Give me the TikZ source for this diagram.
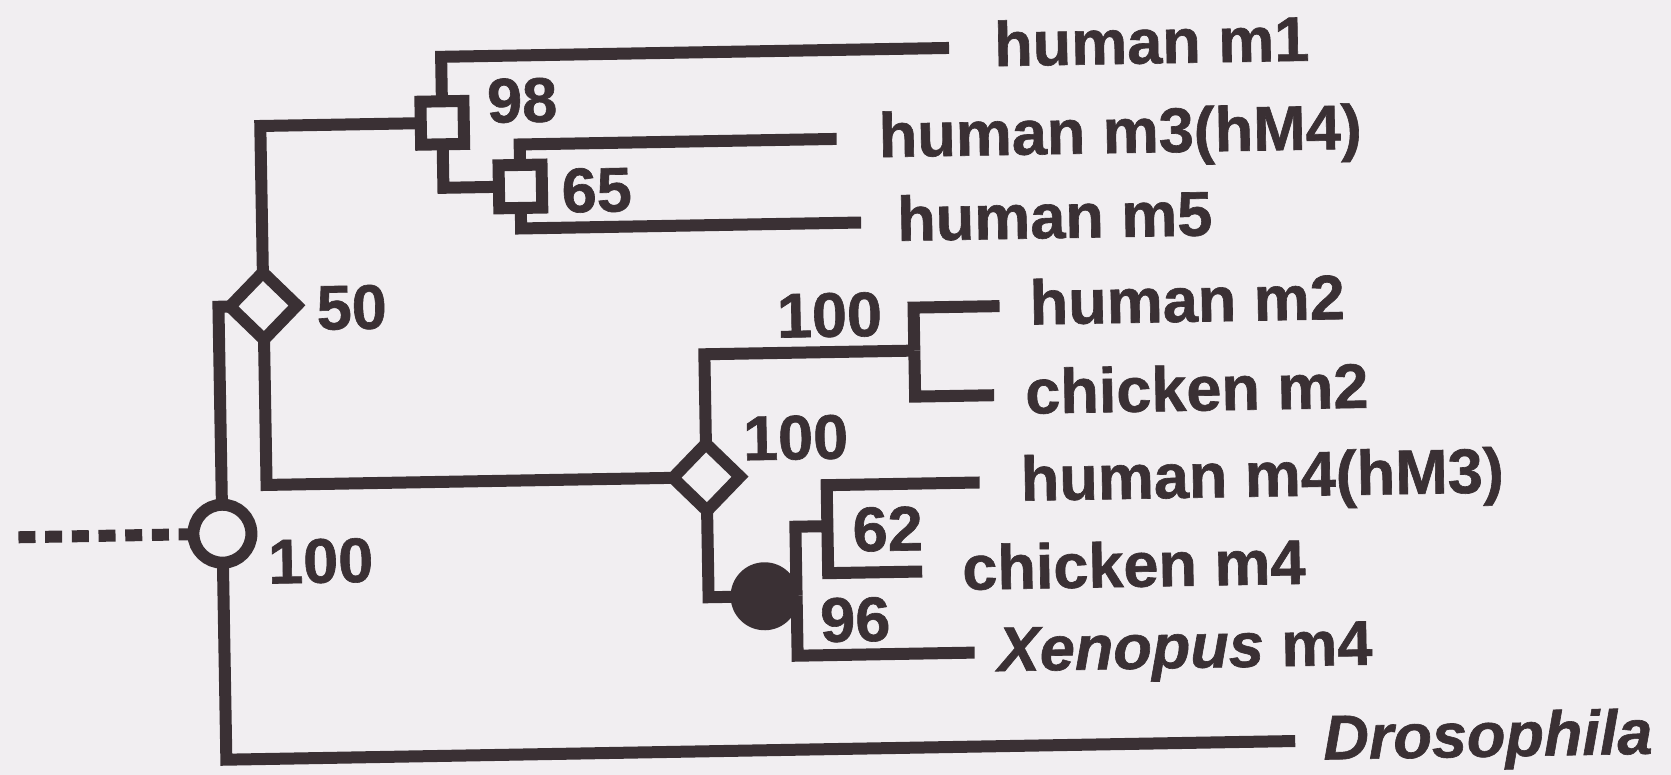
\documentclass[tikz,border=0pt]{standalone}
\usepackage{fontspec}
\setmainfont{Liberation Sans}[BoldFeatures={FakeBold=1},BoldItalicFeatures={FakeBold=1}]
\usetikzlibrary{shapes.geometric}
\definecolor{ink}{RGB}{58,48,52}
\definecolor{paper}{RGB}{241,238,241}
\pgfdeclarelayer{back}
\pgfdeclarelayer{bg}
\pgfsetlayers{back,bg,main}
\begin{document}
\begin{tikzpicture}[x=1pt,y=-1pt,
  branch/.style={draw=ink,line width=12pt,line join=miter},
  outgroup/.style={branch,dash pattern=on 17pt off 9.7pt},
  marker/.style={draw=ink,fill=paper,line width=12pt,inner sep=0pt},
  sqmark/.style={marker,rectangle,minimum size=43pt},
  dmmark/.style={marker,diamond,minimum size=72pt},
  ocmark/.style={marker,circle,minimum size=58pt},
  fcmark/.style={circle,fill=ink,inner sep=0pt,minimum size=68pt},
  support/.style={font=\fontsize{63}{70}\selectfont\bfseries,text=ink,inner sep=0pt,anchor=west},
  taxon/.style={font=\fontsize{63}{70}\selectfont\bfseries,text=ink,inner sep=0pt,anchor=base west}]
\begin{pgfonlayer}{back}
  \fill[paper] (0,0) rectangle (1671,775);
\end{pgfonlayer}
\useasboundingbox (0,0) rectangle (1671,775);
% the whole tree sits at a slight tilt
\begin{scope}[rotate around={1:(835,390)},transform shape]
  % bootstrap markers
  \node[ocmark] (r100) at (220,523) {};
  \node[dmmark] (d50) at (265,296) {};
  \node[sqmark] (s98) at (447,116) {};
  \node[sqmark] (s65) at (524,181) {};
  \node[dmmark] (d100) at (705,475) {};
  \node[fcmark] (f96) at (761,595) {};
  % unmarked junctions and free ends
  \coordinate (og) at (16,523);
  \coordinate (j2) at (915,352);
  \coordinate (k96) at (793,595);
  \coordinate (j62) at (825,526);
  \coordinate (tm1) at (955,50);
  \coordinate (tm3) at (841,139);
  \coordinate (tm5) at (864,223);
  \coordinate (th2) at (1001,309);
  \coordinate (tc2) at (994,398);
  \coordinate (th4) at (978,485);
  \coordinate (tc4) at (919,573);
  \coordinate (tx4) at (970,655);
  \coordinate (tdr) at (1289,749);
  % support values
  \node[support] (b98) at (492,95) {98};
  \node[support] (b65) at (565,186) {65};
  \node[support] (b50) at (318,299) {50};
  \node[support] (b100m2) at (778,315) {100};
  \node[support] (b100d) at (742,437) {100};
  \node[support] (b62) at (850,530) {62};
  \node[support] (b96) at (816,620) {96};
  \node[support] (b100r) at (265,552) {100};
  % taxa
  \node[taxon] (n1) at (1000,69) {human m1};
  \node[taxon] (n3) at (883,158) {human m3(hM4)};
  \node[taxon] (n5) at (900,242) {human m5};
  \node[taxon] (nh2) at (1031,328) {human m2};
  \node[taxon] (nc2) at (1025,417) {chicken m2};
  \node[taxon] (nh4) at (1019,504) {human m4(hM3)};
  \node[taxon] (nc4) at (959,592) {chicken m4};
  \node[taxon] (nx4) at (993,674) {\textit{Xenopus} m4};
  \node[taxon] (ndr) at (1317,768) {\textit{Drosophila}};
  % branches
  \begin{pgfonlayer}{bg}
    \draw[outgroup] (og) -- (r100.center);
    \draw[branch] (r100.center) |- (d50.center);
    \draw[branch] (r100.center) |- (tdr);
    \draw[branch] (d50.center) |- (s98.center);
    \draw[branch] (d50.center) |- (d100.center);
    \draw[branch] (s98.center) |- (tm1);
    \draw[branch] (s98.center) |- (s65.center);
    \draw[branch] (s65.center) |- (tm3);
    \draw[branch] (s65.center) |- (tm5);
    \draw[branch] (d100.center) |- (j2);
    \draw[branch] (j2) |- (th2);
    \draw[branch] (j2) |- (tc2);
    \draw[branch] (d100.center) |- (f96.center);
    \draw[branch] (f96.center) -- (k96);
    \draw[branch] (k96) |- (j62);
    \draw[branch] (k96) |- (tx4);
    \draw[branch] (j62) |- (th4);
    \draw[branch] (j62) |- (tc4);
  \end{pgfonlayer}
\end{scope}
\end{tikzpicture}
\end{document}
